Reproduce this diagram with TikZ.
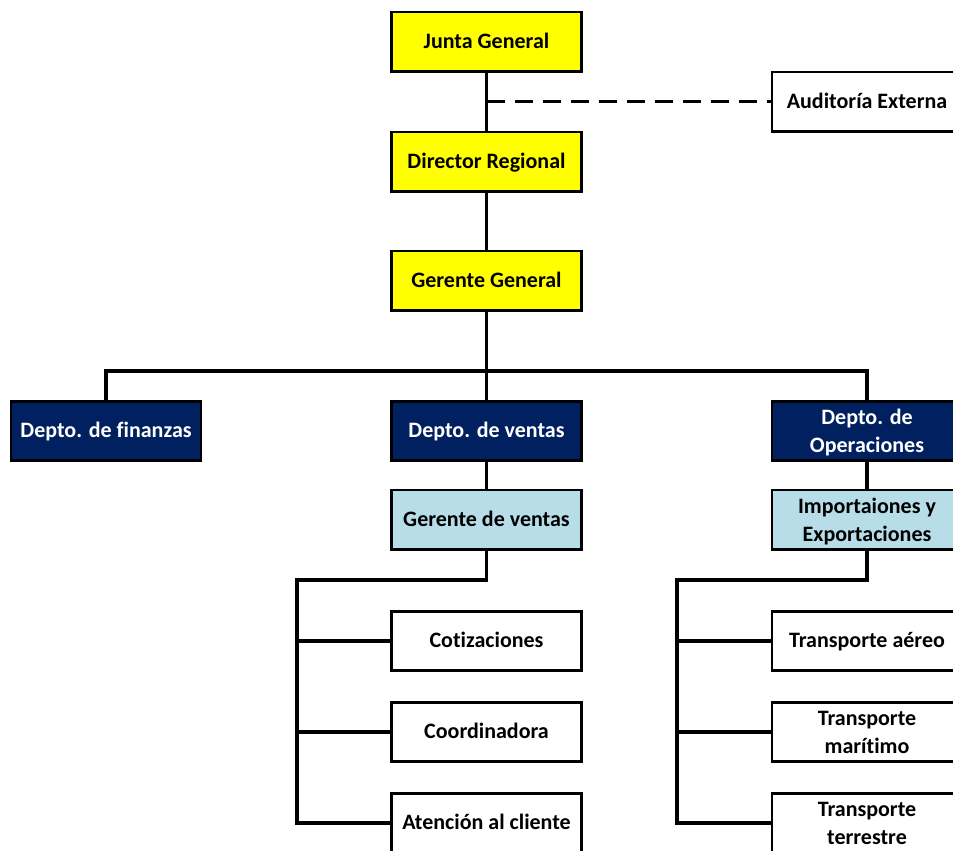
\documentclass[tikz,border=0pt]{standalone}
\usepackage{fontspec}
\setmainfont{Carlito}[Ligatures={NoCommon}]
\definecolor{cyel}{HTML}{FFFF00}
\definecolor{cnavy}{HTML}{002060}
\definecolor{cblue}{HTML}{B7DEE8}
\newcommand\twolines[2]{\begin{tabular}[t]{@{}c@{}}#1\\#2\end{tabular}}
\begin{document}
\begin{tikzpicture}[x=0.75pt,y=-0.75pt,
  box/.style={draw=black,line width=2pt,minimum width=142.5pt,minimum height=44.5pt,inner sep=0pt,
    text height=12.5pt,text depth=2.5pt,
    font=\fontsize{16.5}{21}\selectfont\bfseries},
  twoline/.style={text depth=22pt},
  yelbox/.style={box,fill=cyel},
  navybox/.style={box,fill=cnavy,text=white},
  bluebox/.style={box,fill=cblue},
  whitebox/.style={box,fill=white},
  conn/.style={line width=2.5pt}]
\useasboundingbox (0,0) rectangle (953,850);
\clip (0,0) rectangle (953,850);
\fill[white] (0,0) rectangle (953,850);
% nodes
\node[yelbox] (jg) at (486.5,41.5) {Junta General};
\node[whitebox] (ae) at (867,101.5) {Auditoría Externa};
\node[yelbox] (dr) at (486.5,161.5) {Director Regional};
\node[yelbox] (gg) at (486.5,280.5) {Gerente General};
\node[navybox] (fin) at (106,431) {Depto. de finanzas};
\node[navybox] (ven) at (486.5,431) {Depto. de ventas};
\node[navybox,twoline] (ope) at (867,431) {\twolines{Depto. de}{Operaciones}};
\node[bluebox] (gv) at (486.5,519.5) {Gerente de ventas};
\node[bluebox,twoline] (ie) at (867,519.5) {\twolines{Importaiones y}{Exportaciones}};
\node[whitebox] (cot) at (486.5,641) {Cotizaciones};
\node[whitebox] (coo) at (486.5,732) {Coordinadora};
\node[whitebox] (atc) at (486.5,823) {Atención al cliente};
\node[whitebox] (tae) at (867,641) {Transporte aéreo};
\node[whitebox,twoline] (tma) at (867,732) {\twolines{Transporte}{marítimo}};
\node[whitebox,twoline] (tte) at (867,823) {\twolines{Transporte}{terrestre}};
% helper coordinates
\coordinate (bus) at (486.5,371);
\coordinate (tv) at (297,580);
\coordinate (to) at (677,580);
% connectors
\draw[conn] (jg) -- (dr);
\draw[conn,dashed,dash pattern=on 13.5pt off 7.5pt] (jg.south |- ae.west) -- (ae.west);
\draw[conn] (dr) -- (gg);
\draw[conn] (gg) -- (ven);
\draw[conn] (fin.north) |- (bus) -| (ope.north);
\draw[conn] (ven) -- (gv);
\draw[conn] (ope) -- (ie);
\draw[conn] (gv.south) |- (tv) |- (atc.west);
\draw[conn] (tv |- cot.west) -- (cot.west);
\draw[conn] (tv |- coo.west) -- (coo.west);
\draw[conn] (ie.south) |- (to) |- (tte.west);
\draw[conn] (to |- tae.west) -- (tae.west);
\draw[conn] (to |- tma.west) -- (tma.west);
\end{tikzpicture}
\end{document}
